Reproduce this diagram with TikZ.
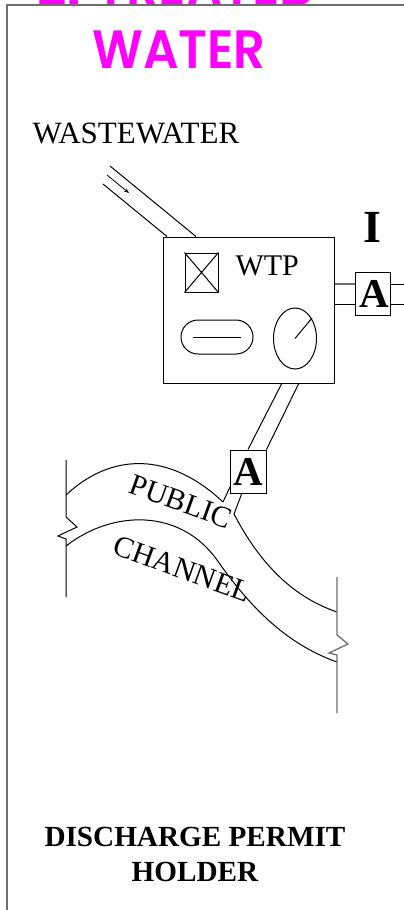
\documentclass[tikz,border=0pt]{standalone}
\usepackage{fontspec}
\usetikzlibrary{shapes.geometric,arrows.meta}
\setmainfont{Liberation Serif}
\newfontfamily\titlefont[FakeStretch=0.92]{Poppins SemiBold}
\definecolor{framegray}{RGB}{110,110,110}
\definecolor{titlepink}{RGB}{255,0,255}
\tikzset{
  serif/.style={font=\fontsize{30}{32}\selectfont, inner sep=0pt},
  boldserif/.style={font=\fontsize{29.2}{35}\selectfont\bfseries, inner sep=0pt, align=center},
  samplebox/.style={draw, inner sep=0pt, minimum width=35pt, minimum height=43pt,
    font=\fontsize{41}{41}\selectfont\bfseries},
  title/.style={font=\fontsize{54}{54}\selectfont\titlefont, text=titlepink, inner sep=0pt}
}
\begin{document}
\begin{tikzpicture}[x=1pt,y=-1pt,line width=1pt]
  \clip (0,0) rectangle (404,910);
  \useasboundingbox (0,0) rectangle (404,910);

  % Title and frame
  \node[title,anchor=base,xscale=1.03] (titletop) at (177,6) {2. TREATED};
  \node[title,anchor=base] (titlewater) at (179,68) {WATER};
  \draw[framegray,line width=1.3pt] (7,910) -- (7,5) -- (404,5);

  % Labels
  \node[serif,font=\fontsize{31}{32}\selectfont,anchor=base west] (wastewater) at (32,143) {WASTEWATER};
  \node[serif,anchor=base west] (wtplabel) at (235,275) {WTP};
  \node[font=\fontsize{46}{46}\selectfont\bfseries,anchor=base,inner sep=0pt] (indirect) at (372,242) {I};
  \node[serif,rotate=-20] (publiclabel) at (181,501.5) {PUBLIC};
  \node[serif,rotate=-20] (channellabel) at (182.5,569) {CHANNEL};
  \node[boldserif,anchor=base] (holder) at (195,881) {DISCHARGE PERMIT\\HOLDER};

  % Plant
  \node[draw,minimum width=171pt,minimum height=146pt,inner sep=0pt] (wtp) at (248.5,310) {};
  \node[draw,minimum width=33pt,minimum height=39pt,inner sep=0pt] (valve) at (201.5,272.5) {};
  \draw (valve.north west) -- (valve.south east) (valve.north east) -- (valve.south west);
  \node[draw,rounded corners=17pt,minimum width=72pt,minimum height=34pt,inner sep=0pt] (tank) at (217,337) {};
  \draw (193,337) -- (241,337);
  \node[draw,ellipse,minimum width=43pt,minimum height=61pt,inner sep=0pt] (gauge) at (295,338.5) {};
  \draw (gauge.center) -- (312,318);

  % Inlet pipe
  \coordinate (inleta) at (110,166);
  \coordinate (inletb) at (103,184);
  \draw (inleta) -- (196,236.5);
  \draw (inletb) -- (167,236.5);
  \draw[line width=0.8pt,-{Stealth[open,length=5pt,width=4pt]}] (107,175) -- (129,193);

  % Sampling points
  \node[samplebox] (samplei) at (372.5,293.5) {\hspace*{3pt}A};
  \node[samplebox,minimum width=36pt] (samplep) at (248,471.5) {A};
  \draw[framegray,line width=1.3pt] ([yshift=9.5pt]samplei.west -| wtp.east) -- ([yshift=9.5pt]samplei.west);
  \draw ([yshift=-10.5pt]samplei.west -| wtp.east) -- ([yshift=-10.5pt]samplei.west);
  \draw ([yshift=9.5pt]samplei.east) -- ([yshift=9.5pt,xshift=14pt]samplei.east);
  \draw ([yshift=-10.5pt]samplei.east) -- ([yshift=-10.5pt,xshift=14pt]samplei.east);
  \draw (samplep.north) -- (282,383);
  \draw (samplep.north east) -- (299,383);
  \draw (230,487) -- (223,502);
  \draw (242,493) -- (234,514);

  % Channel banks
  \draw (66,495) .. controls (112,452) and (170,452) .. (223,502);
  \draw (234,514) .. controls (258,560) and (290,596) .. (337,612);
  \draw (66,546) .. controls (112,510) and (180,508) .. (217,560)
    .. controls (243,597) and (280,642) .. (337,662);
  \draw (66,460) -- (66,517) -- (77,527) -- (58,536) -- (66,539) -- (66,597);
  \draw[framegray,line width=1.3pt] (337,577) -- (337,635) -- (348,644) -- (329,653) -- (337,655) -- (337,713);
\end{tikzpicture}
\end{document}
